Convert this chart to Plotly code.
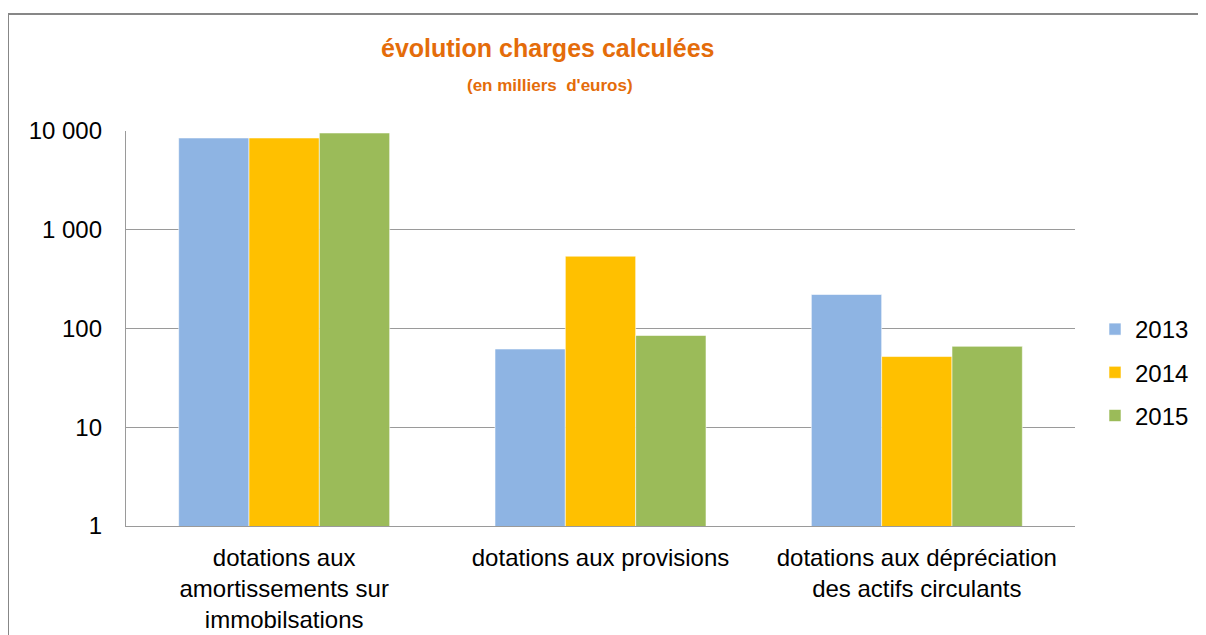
import plotly.graph_objects as go

categories = [
    "dotations aux<br>amortissements sur<br>immobilsations",
    "dotations aux provisions",
    "dotations aux dépréciation<br>des actifs circulants",
]
years = ["2013", "2014", "2015"]
values_2013 = [8500, 62, 221]
values_2014 = [8500, 540, 52]
values_2015 = [9550, 85, 66]
colors = ["#8EB4E3", "#FFC000", "#9BBB59"]
tick_vals = [1, 10, 100, 1000, 10000]
tick_text = ["1", "10", "100", "1 000", "10 000"]

# the page body has an 8px margin; work in page coordinates and shift
OFF = 8
W, H = 1206 - OFF, 635 - OFF
L, R, T, B = 126 - OFF, 1075 - OFF, 131 - OFF, 526 - OFF

fig = go.Figure()
for name, vals, col in zip(years, [values_2013, values_2014, values_2015], colors):
    fig.add_trace(go.Bar(
        x=categories, y=vals, name=name, legendgroup=name,
        marker=dict(color=col, line=dict(width=0.8, color="rgba(255,255,255,0.7)")),
    ))

font_family = "Liberation Sans, Arial, sans-serif"
pw, ph = R - L, B - T

def px(x):
    return (x - OFF - L) / pw

def py(y):
    return (B - (y - OFF)) / ph

fig.update_layout(
    width=W, height=H,
    margin=dict(l=L, r=W - R, t=T, b=H - B, autoexpand=False),
    paper_bgcolor="white", plot_bgcolor="white",
    barmode="group", bargap=0.333, bargroupgap=0,
    font=dict(family=font_family, color="#000000", size=24),
    showlegend=True,
    legend=dict(
        x=px(1095), y=py(307), xanchor="left", yanchor="top",
        font=dict(size=24, family=font_family, color="#000"),
        traceorder="grouped", tracegroupgap=9,
        itemwidth=30, bgcolor="rgba(0,0,0,0)",
    ),
    xaxis=dict(
        showgrid=False, showline=True, linecolor="#9A9A9A", linewidth=1.3,
        ticks="", tickfont=dict(size=24), ticklabelstandoff=10,
        mirror=False,
    ),
    yaxis=dict(
        type="log", range=[0, 4],
        tickvals=tick_vals, ticktext=tick_text,
        showgrid=True, gridcolor="#9A9A9A", gridwidth=1.3,
        showline=True, linecolor="#9A9A9A", linewidth=1.3,
        ticks="", tickfont=dict(size=24), ticklabelstandoff=18,
        zeroline=False,
    ),
    annotations=[
        dict(text="<b>évolution charges calculées</b>", x=px(547), y=py(48),
             xref="paper", yref="paper", showarrow=False,
             font=dict(size=25, color="#E46C0A", family=font_family),
             xanchor="center", yanchor="middle"),
        dict(text="<b>(en milliers  d'euros)</b>", x=px(550), y=py(85),
             xref="paper", yref="paper", showarrow=False,
             font=dict(size=17, color="#E46C0A", family=font_family),
             xanchor="center", yanchor="middle"),
    ],
    shapes=[
        dict(type="rect", xref="paper", yref="paper",
             x0=px(8), x1=px(1203), y0=py(700), y1=py(14),
             line=dict(color="#878787", width=2), fillcolor="rgba(0,0,0,0)",
             layer="below"),
    ],
)

fig.write_html("out.html")
